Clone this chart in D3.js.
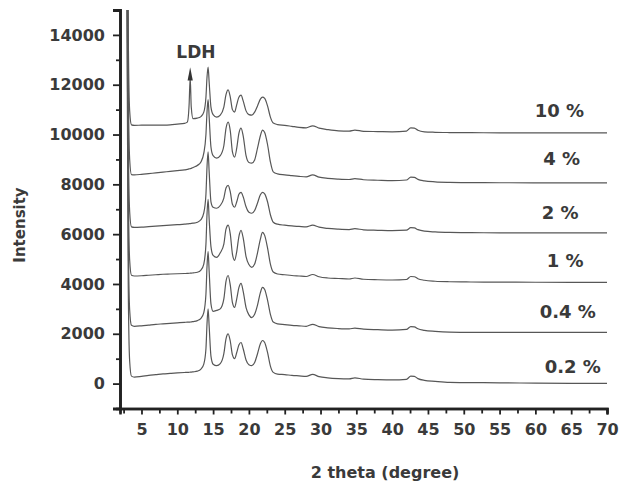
<!DOCTYPE html>
<html>
<head>
<meta charset="utf-8">
<script src="https://cdn.jsdelivr.net/npm/d3@7/dist/d3.min.js"></script>
<style>
  html, body { margin: 0; padding: 0; background: #fff; }
  svg { display: block; }
  text { font-family: "DejaVu Sans", Arial, sans-serif; font-weight: bold; fill: #3a3a3a; }
</style>
</head>
<body>
<svg id="chart" width="623" height="490"></svg>
<script>
// XRD patterns of the composites at different loadings, stacked with vertical offsets.

// 2θ sampling positions (degree)
const twoTheta = [2.95, 3.15, 3.35, 3.6, 4, 5, 6, 7, 8, 9, 10, 11, 11.4, 11.65, 11.8, 11.95, 12.2, 12.8, 13.3, 13.7,
  14.0, 14.15, 14.3, 14.45, 14.7, 15.0, 15.5, 16.0, 16.5, 16.8, 17.1, 17.4, 17.7, 18.0, 18.3, 18.6, 18.9, 19.2, 19.6, 20.0,
  20.4, 20.8, 21.2, 21.6, 21.9, 22.2, 22.6, 23.0, 23.4, 24.0, 25.0, 26.0, 27.0, 28.0, 28.9, 29.8, 31.0, 32.5, 34.0, 34.8,
  36.0, 38.0, 40.0, 42.0, 42.6, 43.1, 43.6, 44.5, 46.0, 48.0, 51.0, 55.0, 60.0, 65.0, 70.0];

// Intensities (counts) before stacking offset
const s02 = [16000, 4000, 900, 300, 260, 290, 330, 360, 390, 410, 430, 445, 450, 455, 458, 460, 470, 500, 580, 780,
  1400, 2400, 3000, 2300, 1100, 780, 720, 800, 1200, 1800, 2000, 1700, 1150, 1000, 1250, 1550, 1650, 1400, 950, 760,
  720, 850, 1200, 1600, 1730, 1650, 1250, 700, 450, 380, 360, 330, 310, 290, 370, 280, 230, 200, 190, 230,
  180, 160, 150, 170, 300, 290, 200, 130, 90, 50, 40, 30, 20, 10, 10];
const s04 = [16000, 4200, 950, 340, 300, 320, 350, 380, 400, 420, 440, 460, 465, 470, 472, 475, 490, 530, 620, 850,
  1600, 2700, 3300, 2500, 1200, 900, 940, 1000, 1400, 2100, 2340, 1950, 1250, 1060, 1400, 1850, 2020, 1700, 1050, 760,
  650, 780, 1150, 1650, 1860, 1780, 1350, 780, 470, 400, 370, 340, 320, 300, 380, 290, 240, 210, 195, 230,
  185, 165, 150, 175, 290, 280, 200, 140, 100, 70, 60, 60, 60, 60, 60];
const s1 = [16000, 4200, 950, 350, 320, 330, 350, 370, 390, 400, 410, 420, 425, 430, 432, 435, 445, 470, 560, 800,
  1600, 2800, 3400, 2600, 1500, 1150, 1070, 1250, 1600, 2200, 2360, 2000, 1200, 950, 1300, 1900, 2150, 1850, 1100, 780,
  670, 800, 1250, 1800, 2070, 1950, 1450, 800, 480, 400, 370, 340, 320, 300, 380, 290, 240, 220, 200, 240,
  190, 170, 160, 180, 300, 290, 210, 150, 110, 90, 80, 75, 70, 65, 60];
const s2 = [16000, 4000, 900, 290, 270, 280, 300, 320, 340, 360, 380, 400, 410, 420, 425, 430, 440, 480, 580, 850,
  1600, 2700, 3300, 2500, 1300, 1080, 1040, 1150, 1450, 1850, 1960, 1700, 1200, 1080, 1300, 1600, 1680, 1500, 1100, 880,
  840, 950, 1250, 1580, 1680, 1620, 1300, 780, 480, 400, 360, 330, 310, 290, 360, 280, 230, 200, 185, 220,
  175, 155, 140, 160, 260, 250, 180, 120, 90, 70, 60, 55, 50, 50, 50];
const s4 = [16000, 4300, 1000, 390, 380, 400, 430, 460, 490, 520, 550, 580, 600, 620, 630, 640, 680, 760, 900, 1250,
  2000, 2900, 3400, 2700, 1500, 1150, 1050, 1150, 1550, 2250, 2500, 2150, 1300, 1090, 1450, 2050, 2260, 1950, 1150, 880,
  850, 980, 1450, 1950, 2180, 2080, 1600, 900, 500, 420, 380, 350, 320, 300, 380, 290, 240, 210, 195, 230,
  185, 165, 150, 175, 290, 280, 200, 140, 100, 80, 70, 65, 60, 60, 60];
const s10 = [16000, 4200, 950, 390, 370, 375, 378, 378, 380, 390, 420, 450, 500, 1200, 2290, 1100, 640, 660, 720, 900,
  1500, 2300, 2710, 2100, 1100, 800, 700, 780, 1100, 1600, 1790, 1500, 1000, 900, 1200, 1500, 1580, 1350, 950, 800,
  780, 900, 1150, 1420, 1500, 1450, 1150, 700, 460, 400, 370, 330, 290, 270, 350, 260, 200, 150, 140, 180,
  130, 120, 110, 140, 270, 260, 170, 110, 90, 80, 75, 70, 70, 70, 70];

const seriesNames = ["0.2 %", "0.4 %", "1 %", "2 %", "4 %", "10 %"];
const seriesValues = [s02, s04, s1, s2, s4, s10];
const offsets = [0, 2000, 4000, 6000, 8000, 10000];

// label anchor (2θ of left edge, intensity of baseline)
const labelX = [61.3, 60.6, 61.6, 60.9, 61.1, 59.9];
const labelY = [440, 2650, 4670, 6600, 8770, 10700];

// LDH reflection marker
const ldhText = "LDH";
const ldhPos = { x: 11.8, top: 12700, base: 12290, textX: 12.6, textY: 13090 };

const yTicks = [0, 2000, 4000, 6000, 8000, 10000, 12000, 14000];
const yMinor = [-1000, 1000, 3000, 5000, 7000, 9000, 11000, 13000, 15000];
const xTicks = [5, 10, 15, 20, 25, 30, 35, 40, 45, 50, 55, 60, 65, 70];
const xMinor = [2.5, 7.5, 12.5, 17.5, 22.5, 27.5, 32.5, 37.5, 42.5, 47.5, 52.5, 57.5, 62.5, 67.5];

const svg = d3.select("#chart");
const x = d3.scaleLinear().domain([2, 70]).range([120, 607]);
const y = d3.scaleLinear().domain([-1000, 15000]).range([408.5, 10]);

svg.append("defs").append("clipPath").attr("id", "plot")
  .append("rect")
  .attr("x", x.range()[0]).attr("y", y.range()[1])
  .attr("width", x.range()[1] - x.range()[0])
  .attr("height", y.range()[0] - y.range()[1]);

const line = d3.line()
  .x(d => x(d[0]))
  .y(d => y(d[1]))
  .curve(d3.curveMonotoneX);

const curves = svg.append("g").attr("clip-path", "url(#plot)");
seriesValues.forEach((vals, i) => {
  const pts = twoTheta.map((t, k) => [t, vals[k] + offsets[i]]);
  curves.append("path")
    .datum(pts)
    .attr("d", line)
    .attr("fill", "none")
    .attr("stroke", "#575757")
    .attr("stroke-width", 1.2)
    .attr("stroke-linejoin", "round");
});

// series labels
svg.append("g").selectAll("text")
  .data(seriesNames)
  .join("text")
  .attr("x", (d, i) => x(labelX[i]))
  .attr("y", (d, i) => y(labelY[i]))
  .attr("font-size", 18)
  .text(d => d);

// LDH marker arrow and label
const ax = x(ldhPos.x), aTop = y(ldhPos.top), aBase = y(ldhPos.base);
svg.append("path")
  .attr("d", `M${ax},${aTop} L${ax - 2.6},${aBase + 3} L${ax + 2.6},${aBase + 3} Z`)
  .attr("fill", "#333");
svg.append("text")
  .attr("x", x(ldhPos.textX)).attr("y", y(ldhPos.textY))
  .attr("text-anchor", "middle")
  .attr("font-size", 17)
  .text(ldhText);

// axes
const axisColor = "#222";
const gy = svg.append("g").attr("transform", `translate(${x.range()[0]},0)`);
gy.call(d3.axisLeft(y).tickValues(yTicks).tickSize(7).tickPadding(8).tickFormat(d3.format("d")));
const gyMinor = svg.append("g").attr("transform", `translate(${x.range()[0]},0)`);
gyMinor.call(d3.axisLeft(y).tickValues(yMinor).tickSize(4).tickFormat(""));

const gx = svg.append("g").attr("transform", `translate(0,${y.range()[0]})`);
gx.call(d3.axisBottom(x).tickValues(xTicks).tickSize(6).tickPadding(9).tickFormat(d3.format("d")));
const gxMinor = svg.append("g").attr("transform", `translate(0,${y.range()[0]})`);
gxMinor.call(d3.axisBottom(x).tickValues(xMinor).tickSize(5).tickFormat(""));

[gy, gyMinor, gx, gxMinor].forEach(g => {
  g.selectAll(".domain").attr("stroke", axisColor).attr("stroke-width", 2.4);
  g.selectAll(".tick line").attr("stroke", axisColor).attr("stroke-width", 1.8);
  g.selectAll(".tick text")
    .attr("font-family", "'DejaVu Sans', Arial, sans-serif")
    .attr("font-weight", "bold")
    .attr("font-size", 16)
    .attr("fill", "#3a3a3a");
});
gy.selectAll(".domain").attr("stroke-width", 2.8);

// axis titles
svg.append("text")
  .attr("x", 385).attr("y", 478)
  .attr("text-anchor", "middle")
  .attr("font-size", 16)
  .text("2 theta (degree)");
svg.append("text")
  .attr("transform", `translate(25,225) rotate(-90)`)
  .attr("text-anchor", "middle")
  .attr("font-size", 15)
  .text("Intensity");
</script>
</body>
</html>
